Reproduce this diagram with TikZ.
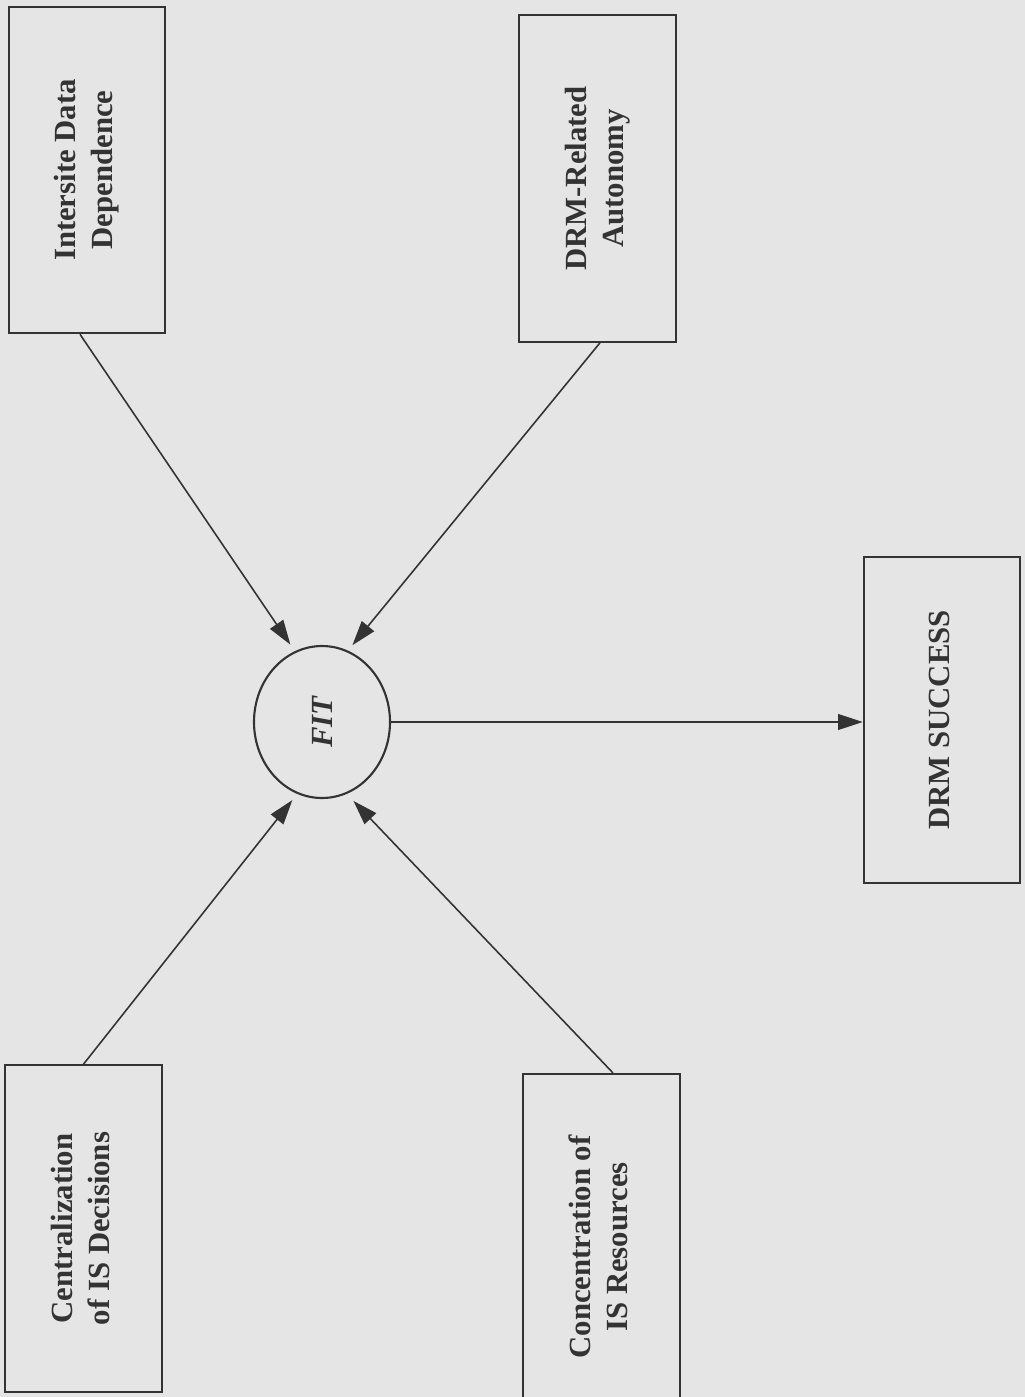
\documentclass[tikz,border=0pt]{standalone}
\usepackage{fontspec}
\setmainfont{Liberation Serif}
\usepackage{graphicx}
\usepackage{tikz}
\usetikzlibrary{shapes.geometric,arrows.meta,calc}
\definecolor{scangray}{gray}{0.9}
\definecolor{inkgray}{gray}{0.2}
\newcommand{\boxlabel}[1]{\rotatebox{90}{\begin{tabular}{@{}c@{}}#1\end{tabular}}}

\begin{document}
\begin{tikzpicture}[scale=0.2]
\tikzstyle{every node}+=[inner sep=0pt, text=inkgray, font=\fontsize{17.5}{21}\selectfont\bfseries]
\tikzstyle{factor}=[draw=inkgray, line width=1.2pt, rectangle, minimum width=3.13cm, minimum height=6.53cm]
\tikzstyle{link}=[draw=inkgray, line width=0.9pt, -{Triangle[length=14pt,width=9pt]}]
\useasboundingbox (0,0) rectangle (102.5,-139.7);
\clip (0,0) rectangle (102.5,-139.7);
\fill [scangray] (0,0) rectangle (102.5,-139.7);
\node [factor] (ids) at (8.7,-17.0) {\boxlabel{Intersite Data\\Dependence}};
\node [factor] (auto) at (59.75,-17.85) {\boxlabel{DRM-Related\\Autonomy}};
\node [factor] (succ) at (94.2,-72.0) {\boxlabel{DRM SUCCESS}};
\node [factor] (cent) at (8.35,-122.85) {\boxlabel{Centralization\\of IS Decisions}};
\node [factor, minimum height=6.92cm] (conc) at (60.15,-124.7) {\boxlabel{Concentration of\\IS Resources}};
\node [ellipse, draw=inkgray, line width=1.2pt, minimum width=2.72cm, minimum height=3.04cm] (fit) at (32.2,-72.2) {\rotatebox{90}{\itshape FIT}};
\draw [link, shorten >=4.5pt] ($(ids.south)+(-0.7,0)$) -- (fit.111);
\draw [link, shorten >=4pt] ($(auto.south)+(0.25,0)$) -- (fit.70);
\draw [link, shorten >=4.5pt] (cent.north) -- (fit.251);
\draw [link, shorten >=5.5pt] ($(conc.north)+(1.15,0)$) -- (fit.289);
\draw [link] (fit.east) -- (fit.east -| succ.west);
\end{tikzpicture}
\end{document}
